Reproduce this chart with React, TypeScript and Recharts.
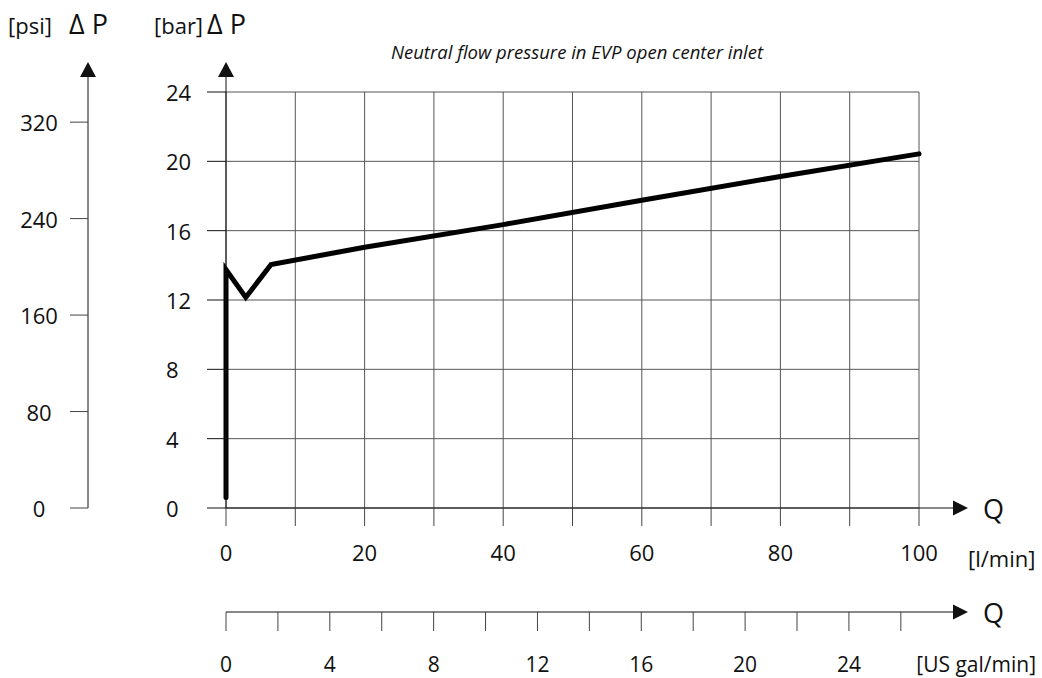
import React from 'react';
import { ComposedChart, Line, XAxis, YAxis, CartesianGrid } from 'recharts';

// ---- data ----
const flowLpm = [0, 0, 2.85, 6.5, 20, 40, 60, 80, 100];
const pressureBar = [0.6, 13.75, 12.15, 14.05, 15.04, 16.35, 17.75, 19.13, 20.43];

const lpmTicks = [0, 10, 20, 30, 40, 50, 60, 70, 80, 90, 100];
const lpmLabelStep = 20;
const barTicks = [0, 4, 8, 12, 16, 20, 24];
const psiTicks = [0, 80, 160, 240, 320];
const galTicks = [0, 2, 4, 6, 8, 10, 12, 14, 16, 18, 20, 22, 24, 26];
const galLabelStep = 4;

const lpmDomain = [0, 100];
const barDomain = [0, 24];
const psiDomain = [0, 345];
const galDomain = [0, 26.7];

const title = 'Neutral flow pressure in EVP open center inlet';

const data = flowLpm.map((q, i) => ({ q, p: pressureBar[i] }));

// ---- layout ----
const W = 1042;
const H = 678;
const PLOT_LEFT = 226;
const PLOT_TOP = 92;
const PLOT_RIGHT = 919;
const PLOT_BOTTOM = 508;
const PSI_W = 88;
const BAR_W = PLOT_LEFT - PSI_W;
const LPM_H = 104;
const GAL_H = H - PLOT_BOTTOM - LPM_H;
const GAL_Y = PLOT_BOTTOM + LPM_H;

const FONT = "'Open Sans', 'Noto Sans', sans-serif";
const INK = '#111';
const GRID = '#555';

const BarTick = (props: any) => {
  const { x, y, payload } = props;
  return (
    <text x={x - 41} y={y} textAnchor="start" dominantBaseline="central" fontFamily={FONT} fontSize={22} fill={INK}>
      {payload.value}
    </text>
  );
};

const PsiTick = (props: any) => {
  const { x, y, payload } = props;
  return (
    <text x={x - 31} y={y} textAnchor="middle" dominantBaseline="central" fontFamily={FONT} fontSize={22} fill={INK}>
      {payload.value}
    </text>
  );
};

const LpmTick = (props: any) => {
  const { x, y, payload } = props;
  if (payload.value % lpmLabelStep !== 0) return <g />;
  return (
    <text x={x} y={y + 26} textAnchor="middle" dominantBaseline="central" fontFamily={FONT} fontSize={22} fill={INK}>
      {payload.value}
    </text>
  );
};

const GalTick = (props: any) => {
  const { x, y, payload } = props;
  if (payload.value % galLabelStep !== 0) return <g />;
  return (
    <text x={x} y={y + 33} textAnchor="middle" dominantBaseline="central" fontFamily={FONT} fontSize={21} fill={INK}>
      {payload.value}
    </text>
  );
};

const upArrow = (x: number) => (
  <g key={'u' + x}>
    <line x1={x} y1={PLOT_TOP} x2={x} y2={76} stroke={INK} strokeWidth={1} />
    <polygon points={`${x - 8},77 ${x + 8},77 ${x},62`} fill={INK} />
  </g>
);

const rightArrow = (y: number) => (
  <g key={'r' + y}>
    <line x1={PLOT_RIGHT} y1={y} x2={954} y2={y} stroke={INK} strokeWidth={1} />
    <polygon points={`953,${y - 7.5} 953,${y + 7.5} 968,${y}`} fill={INK} />
  </g>
);

export default function App() {
  return (
    <div style={{ position: 'absolute', left: 0, top: 0, width: W, height: H, background: '#fff' }}>
      <ComposedChart
        width={W}
        height={H}
        data={data}
        margin={{ top: PLOT_TOP, right: W - PLOT_RIGHT, bottom: 0, left: 0 }}
      >
        <CartesianGrid xAxisId="a_lpm" yAxisId="a_bar" stroke={GRID} strokeWidth={1} />
        <XAxis
          xAxisId="a_lpm"
          dataKey="q"
          type="number"
          domain={lpmDomain}
          ticks={lpmTicks}
          interval={0}
          height={LPM_H}
          tickSize={18}
          tickMargin={0}
          axisLine={{ stroke: INK }}
          tickLine={{ stroke: '#444' }}
          tick={LpmTick}
        />
        <XAxis
          xAxisId="b_gal"
          dataKey="q"
          type="number"
          domain={galDomain}
          allowDataOverflow
          ticks={galTicks}
          interval={0}
          height={GAL_H}
          tickSize={19}
          tickMargin={0}
          axisLine={{ stroke: INK }}
          tickLine={{ stroke: '#444' }}
          tick={GalTick}
        />
        <YAxis
          yAxisId="a_bar"
          type="number"
          domain={barDomain}
          ticks={barTicks}
          interval={0}
          width={BAR_W}
          tickSize={19}
          tickMargin={0}
          axisLine={{ stroke: INK }}
          tickLine={{ stroke: INK }}
          tick={BarTick}
        />
        <YAxis
          yAxisId="b_psi"
          type="number"
          domain={psiDomain}
          allowDataOverflow
          ticks={psiTicks}
          interval={0}
          width={PSI_W}
          tickSize={18}
          tickMargin={0}
          axisLine={{ stroke: INK }}
          tickLine={{ stroke: '#444' }}
          tick={PsiTick}
        />
        <Line
          xAxisId="a_lpm"
          yAxisId="a_bar"
          type="linear"
          dataKey="p"
          stroke="#000"
          strokeWidth={5}
          strokeLinecap="round"
          strokeLinejoin="miter"
          dot={false}
          activeDot={false}
          isAnimationActive={false}
        />
      </ComposedChart>
      <svg
        width={W}
        height={H}
        style={{ position: 'absolute', left: 0, top: 0, pointerEvents: 'none' }}
      >
        {upArrow(PSI_W)}
        {upArrow(PLOT_LEFT)}
        {rightArrow(PLOT_BOTTOM)}
        {rightArrow(GAL_Y)}
        <text x={8} y={34} fontFamily={FONT} fontSize={22} fill={INK}>[psi]</text>
        <text x={69} y={34} fontFamily={FONT} fontSize={27} fill={INK}>Δ P</text>
        <text x={154} y={34} fontFamily={FONT} fontSize={22} fill={INK}>[bar]</text>
        <text x={207} y={34} fontFamily={FONT} fontSize={27} fill={INK}>Δ P</text>
        <text x={577} y={59} textAnchor="middle" fontFamily={FONT} fontStyle="italic" fontSize={18.5} fill={INK}>{title}</text>
        <text x={983} y={PLOT_BOTTOM} dominantBaseline="central" fontFamily={FONT} fontSize={27} fill={INK}>Q</text>
        <text x={983} y={GAL_Y} dominantBaseline="central" fontFamily={FONT} fontSize={27} fill={INK}>Q</text>
        <text x={968} y={558} dominantBaseline="central" fontFamily={FONT} fontSize={22} fill={INK}>[l/min]</text>
        <text x={1036} y={664} textAnchor="end" dominantBaseline="central" fontFamily={FONT} fontSize={21} fill={INK}>[US gal/min]</text>
      </svg>
    </div>
  );
}
